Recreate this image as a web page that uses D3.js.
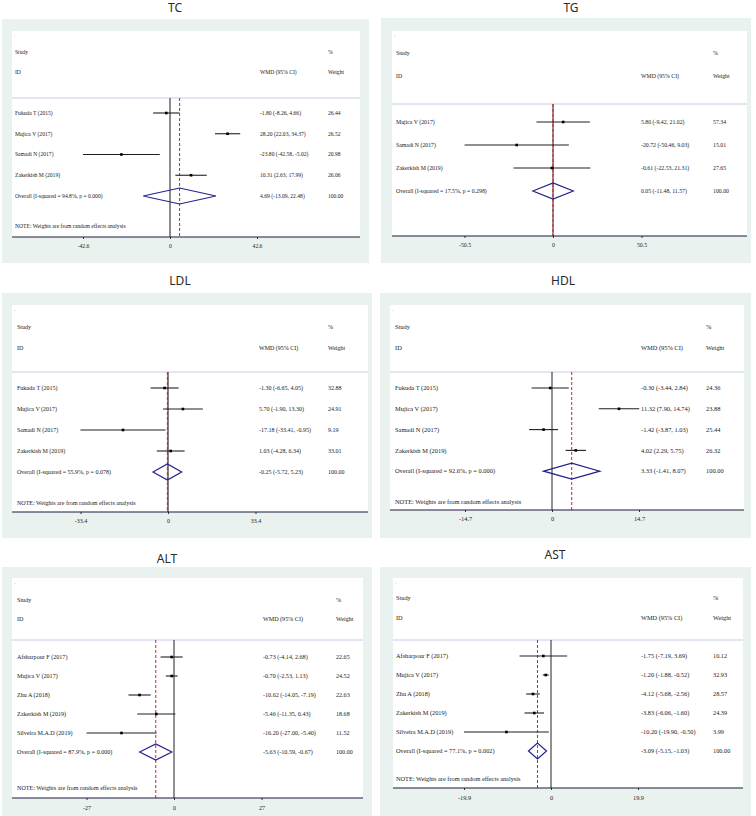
<!DOCTYPE html>
<html>
<head>
    <meta charset="utf-8">
    <title>Forest plots</title>
    <script src="https://d3js.org/d3.v7.min.js"></script>
    <style>
        body { margin: 0; background: #fff; }
    </style>
</head>
<body>
    <div id="chart"></div>

    <script>
        // ---- data ----
        const studies4 = ["Fukuda T (2015)", "Mujica V (2017)", "Samadi N (2017)", "Zakerkish M (2019)"];
        const studiesTG = ["Mujica V (2017)", "Samadi N (2017)", "Zakerkish M (2019)"];
        const studies5 = ["Afsharpour F (2017)", "Mujica V (2017)", "Zhu A (2018)", "Zakerkish M (2019)", "Silveira M.A.D (2019)"];

        const tcEst = [-1.80, 28.20, -23.80, 10.31];
        const tcLow = [-8.26, 22.03, -42.58, 2.63];
        const tcHigh = [4.66, 34.37, -5.02, 17.99];
        const tcWeight = ["26.44", "26.52", "20.98", "26.06"];
        const tcOverall = [4.69, -13.09, 22.48];
        const tcHet = "94.8%, p = 0.000";
        const tcTicks = [-42.6, 0, 42.6];

        const tgEst = [5.80, -20.72, -0.61];
        const tgLow = [-9.42, -50.46, -22.53];
        const tgHigh = [21.02, 9.03, 21.31];
        const tgWeight = ["57.34", "15.01", "27.65"];
        const tgOverall = [0.05, -11.48, 11.57];
        const tgHet = "17.5%, p = 0.298";
        const tgTicks = [-50.5, 0, 50.5];

        const ldlEst = [-1.30, 5.70, -17.18, 1.03];
        const ldlLow = [-6.65, -1.90, -33.41, -4.28];
        const ldlHigh = [4.05, 13.30, -0.95, 6.34];
        const ldlWeight = ["32.88", "24.91", "9.19", "33.01"];
        const ldlOverall = [-0.25, -5.72, 5.23];
        const ldlHet = "55.9%, p = 0.078";
        const ldlTicks = [-33.4, 0, 33.4];

        const hdlEst = [-0.30, 11.32, -1.42, 4.02];
        const hdlLow = [-3.44, 7.90, -3.87, 2.29];
        const hdlHigh = [2.84, 14.74, 1.03, 5.75];
        const hdlWeight = ["24.36", "23.88", "25.44", "26.32"];
        const hdlOverall = [3.33, -1.41, 8.07];
        const hdlHet = "92.6%, p = 0.000";
        const hdlTicks = [-14.7, 0, 14.7];

        const altEst = [-0.73, -0.70, -10.62, -5.46, -16.20];
        const altLow = [-4.14, -2.53, -14.05, -11.35, -27.00];
        const altHigh = [2.68, 1.13, -7.19, 0.43, -5.40];
        const altWeight = ["22.65", "24.52", "22.63", "18.68", "11.52"];
        const altOverall = [-5.63, -10.59, -0.67];
        const altHet = "87.9%, p = 0.000";
        const altTicks = [-27, 0, 27];

        const astEst = [-1.75, -1.20, -4.12, -3.83, -10.20];
        const astLow = [-7.19, -1.88, -5.68, -6.06, -19.90];
        const astHigh = [3.69, -0.52, -2.56, -1.60, -0.50];
        const astWeight = ["10.12", "32.93", "28.57", "24.39", "3.99"];
        const astOverall = [-3.09, -5.15, -1.03];
        const astHet = "77.1%, p = 0.002";
        const astTicks = [-19.9, 0, 19.9];

        // ---- panel layout ----
        const panels = [
            {title: "TC", studies: studies4, est: tcEst, lo: tcLow, hi: tcHigh, w: tcWeight, overall: tcOverall, het: tcHet, ticks: tcTicks, note: true,
             titleX: 175, titleY: 12, outer: [2, 19, 369, 263], inner: [12, 31, 360], sepY: 98, headY: [52, 72],
             rowY: 113, step: 20.75, noteY: 226, axisY: 237, labelY: 246, zeroX: 170, span: 87,
             colL: 15, colW: 260, colP: 328, fs: 5.6, nullColor: "#8c8c8c", nullW: 2},
            {title: "TG", studies: studiesTG, est: tgEst, lo: tgLow, hi: tgHigh, w: tgWeight, overall: tgOverall, het: tgHet, ticks: tgTicks, note: false,
             titleX: 571, titleY: 12, outer: [381, 18, 751, 263], inner: [392, 31, 747], sepY: 104, headY: [53, 76],
             rowY: 122, step: 23, noteY: 0, axisY: 236, labelY: 245, zeroX: 553, span: 88.5,
             colL: 396, colW: 641, colP: 713, fs: 5.8, nullColor: "#7d6e6e", nullW: 1.6},
            {title: "LDL", studies: studies4, est: ldlEst, lo: ldlLow, hi: ldlHigh, w: ldlWeight, overall: ldlOverall, het: ldlHet, ticks: ldlTicks, note: true,
             titleX: 180, titleY: 285, outer: [2, 293, 372, 538], inner: [12, 305, 368], sepY: 372, headY: [327, 348],
             rowY: 388, step: 21, noteY: 503, axisY: 512, labelY: 521, zeroX: 168, span: 87.5,
             colL: 17, colW: 259, colP: 328, fs: 6.0, nullColor: "#5a4848", nullW: 1.4},
            {title: "HDL", studies: studies4, est: hdlEst, lo: hdlLow, hi: hdlHigh, w: hdlWeight, overall: hdlOverall, het: hdlHet, ticks: hdlTicks, note: true,
             titleX: 563, titleY: 285, outer: [380, 293, 751, 538], inner: [390, 305, 744], sepY: 372, headY: [327, 348],
             rowY: 388, step: 20.8, noteY: 502, axisY: 510, labelY: 519, zeroX: 552, span: 87,
             colL: 395, colW: 641, colP: 706, fs: 6.4, nullColor: "#222", nullW: 1},
            {title: "ALT", studies: studies5, est: altEst, lo: altLow, hi: altHigh, w: altWeight, overall: altOverall, het: altHet, ticks: altTicks, note: true,
             titleX: 167, titleY: 563, outer: [2, 567, 372, 816], inner: [12, 578, 363], sepY: 640, headY: [600, 619],
             rowY: 657, step: 19, noteY: 788, axisY: 798, labelY: 808, zeroX: 174, span: 87.5,
             colL: 17, colW: 263, colP: 336, fs: 6.1, nullColor: "#222", nullW: 1},
            {title: "AST", studies: studies5, est: astEst, lo: astLow, hi: astHigh, w: astWeight, overall: astOverall, het: astHet, ticks: astTicks, note: true,
             titleX: 555, titleY: 559, outer: [380, 567, 751, 816], inner: [393, 578, 743], sepY: 640, headY: [598, 618],
             rowY: 656, step: 19, noteY: 779, axisY: 788, labelY: 798, zeroX: 551, span: 87,
             colL: 396, colW: 641, colP: 713, fs: 6.3, nullColor: "#222", nullW: 1}
        ];

        const svg = d3.select("#chart").append("svg")
            .attr("width", 756)
            .attr("height", 816);

        // plain hyphen minus, as in the Stata output
        const fmt = v => v.toFixed(2);
        const serif = "'Liberation Serif', 'DejaVu Serif', serif";

        panels.forEach(p => {
            const g = svg.append("g");
            const n = p.studies.length;

            const x = d3.scaleLinear()
                .domain([p.ticks[0], p.ticks[2]])
                .range([p.zeroX - p.span, p.zeroX + p.span]);
            const y = i => p.rowY + i * p.step;

            // title
            g.append("text")
                .attr("x", p.titleX).attr("y", p.titleY)
                .attr("text-anchor", "middle")
                .style("font-family", "'Noto Sans', 'Open Sans', sans-serif")
                .style("font-size", "12px")
                .attr("fill", "#2a2a2a")
                .text(p.title);

            // backgrounds
            g.append("rect")
                .attr("x", p.outer[0]).attr("y", p.outer[1])
                .attr("width", p.outer[2] - p.outer[0]).attr("height", p.outer[3] - p.outer[1])
                .attr("fill", "#eaf2f0");
            g.append("rect")
                .attr("x", p.inner[0]).attr("y", p.inner[1])
                .attr("width", p.inner[2] - p.inner[0]).attr("height", p.axisY - p.inner[1])
                .attr("fill", "#fff");

            const txt = (tx, ty, s, anchor) => g.append("text")
                .attr("x", tx).attr("y", ty).attr("dy", "0.35em")
                .attr("text-anchor", anchor || "start")
                .style("font-family", serif)
                .style("font-size", p.fs + "px")
                .attr("fill", "#1a1a1a")
                .text(s);

            // header
            txt(p.inner[0] + 2, p.inner[1] + 4, ".").attr("fill", "#aaa");
            txt(p.colL, p.headY[0], "Study");
            txt(p.colL, p.headY[1], "ID");
            txt(p.colW, p.headY[1], "WMD (95% CI)");
            txt(p.colP, p.headY[0], "%");
            txt(p.colP, p.headY[1], "Weight");

            g.append("line")
                .attr("x1", p.inner[0]).attr("x2", p.inner[2])
                .attr("y1", p.sepY).attr("y2", p.sepY)
                .attr("stroke", "#c8c8e4").attr("stroke-width", 1);

            // null line and overall estimate line
            g.append("line")
                .attr("x1", x(0)).attr("x2", x(0))
                .attr("y1", p.sepY).attr("y2", p.axisY)
                .attr("stroke", p.nullColor).attr("stroke-width", p.nullW);
            g.append("line")
                .attr("x1", x(p.overall[0])).attr("x2", x(p.overall[0]))
                .attr("y1", p.sepY).attr("y2", p.axisY)
                .attr("stroke", "#e01c28").attr("stroke-width", 1)
                .attr("stroke-dasharray", "3,2");

            // study rows
            const rows = p.studies.map((s, i) => ({s, est: p.est[i], lo: p.lo[i], hi: p.hi[i], w: p.w[i], i}));

            g.selectAll(".ci").data(rows).join("line")
                .attr("x1", d => x(d.lo)).attr("x2", d => x(d.hi))
                .attr("y1", d => y(d.i)).attr("y2", d => y(d.i))
                .attr("stroke", "#1e1e28").attr("stroke-width", 1.1);
            g.selectAll(".pt").data(rows).join("rect")
                .attr("x", d => x(d.est) - 1.3).attr("y", d => y(d.i) - 1.3)
                .attr("width", 2.6).attr("height", 2.6)
                .attr("fill", "#000");

            rows.forEach(d => {
                txt(p.colL, y(d.i), d.s);
                txt(p.colW, y(d.i), fmt(d.est) + " (" + fmt(d.lo) + ", " + fmt(d.hi) + ")");
                txt(p.colP, y(d.i), d.w);
            });

            // overall diamond
            const oy = y(n);
            const [oe, ol, oh] = p.overall;
            g.append("path")
                .attr("d", `M${x(ol)},${oy}L${x(oe)},${oy - 8}L${x(oh)},${oy}L${x(oe)},${oy + 8}Z`)
                .attr("fill", "none")
                .attr("stroke", "#22228c").attr("stroke-width", 1.2);
            txt(p.colL, oy, "Overall  (I-squared = " + p.het + ")");
            txt(p.colW, oy, fmt(oe) + " (" + fmt(ol) + ", " + fmt(oh) + ")");
            txt(p.colP, oy, "100.00");

            if (p.note) txt(p.colL, p.noteY, "NOTE: Weights are from random effects analysis");

            // axis
            const axis = g.append("g")
                .attr("transform", "translate(0," + p.axisY + ")")
                .call(d3.axisBottom(x).tickValues(p.ticks).tickSize(2).tickFormat(d => d === 0 ? "0" : String(d)));
            axis.select(".domain").remove();
            axis.selectAll("line").attr("stroke", "#333");
            axis.selectAll("text")
                .attr("y", p.labelY - p.axisY).attr("dy", "0.35em")
                .style("font-family", serif)
                .style("font-size", p.fs + "px")
                .attr("fill", "#1a1a1a");
            g.append("line")
                .attr("x1", p.inner[0]).attr("x2", p.inner[2])
                .attr("y1", p.axisY).attr("y2", p.axisY)
                .attr("stroke", "#1a1a3a").attr("stroke-width", 1.2);
        });
    </script>
</body>
</html>
